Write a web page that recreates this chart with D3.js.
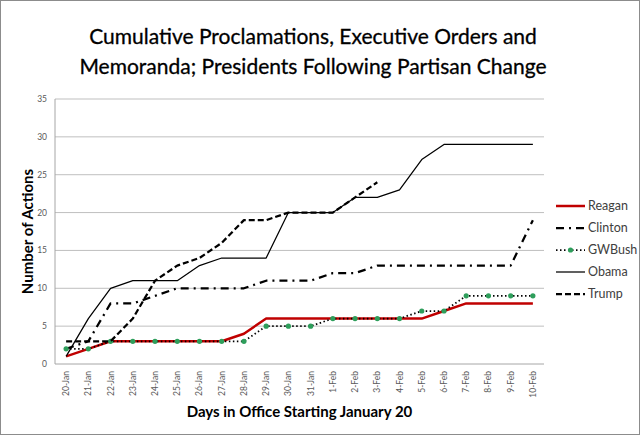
<!DOCTYPE html>
<html>
<head>
<meta charset="utf-8">
<script src="https://cdn.jsdelivr.net/npm/d3@7"></script>
<style>
  body { margin: 0; background: #fff; }
  text { font-family: Lato, "Open Sans", sans-serif; }
</style>
</head>
<body>
<svg width="640" height="435"></svg>
<script>
// days in office, 20-Jan through 10-Feb
let days = ["20-Jan", "21-Jan", "22-Jan", "23-Jan", "24-Jan", "25-Jan", "26-Jan", "27-Jan",
    "28-Jan", "29-Jan", "30-Jan", "31-Jan", "1-Feb", "2-Feb", "3-Feb", "4-Feb", "5-Feb",
    "6-Feb", "7-Feb", "8-Feb", "9-Feb", "10-Feb"];

let reagan = [1, 2, 3, 3, 3, 3, 3, 3, 4, 6, 6, 6, 6, 6, 6, 6, 6, 7, 8, 8, 8, 8];
let clinton = [2, 3, 8, 8, 9, 10, 10, 10, 10, 11, 11, 11, 12, 12, 13, 13, 13, 13, 13, 13, 13, 19];
let gwbush = [2, 2, 3, 3, 3, 3, 3, 3, 3, 5, 5, 5, 6, 6, 6, 6, 7, 7, 9, 9, 9, 9];
let obama = [1, 6, 10, 11, 11, 11, 13, 14, 14, 14, 20, 20, 20, 22, 22, 23, 27, 29, 29, 29, 29, 29];
let trump = [3, 3, 3, 6, 11, 13, 14, 16, 19, 19, 20, 20, 20, 22, 24];

let yTicks = [0, 5, 10, 15, 20, 25, 30, 35];

let series = [
    { name: "Reagan", values: reagan, color: "#c00000", width: 2.5, dash: null },
    { name: "Clinton", values: clinton, color: "#000", width: 2.25, dash: "8,5,2,5" },
    { name: "GWBush", values: gwbush, color: "#000", width: 1.75, dash: "1.5,2.5", marker: "#2e9e5b" },
    { name: "Obama", values: obama, color: "#000", width: 1.25, dash: null },
    { name: "Trump", values: trump, color: "#000", width: 2.25, dash: "6,3" }
];

let svg = d3.select("svg");
let width = parseInt(svg.attr("width"));
let height = parseInt(svg.attr("height"));

// chart area border
svg.append("rect")
    .attr("x", 0.5).attr("y", 0.5)
    .attr("width", width - 1).attr("height", height - 1)
    .attr("fill", "#fff")
    .attr("stroke", "#8c8c8c");

let plot = { left: 55, right: 544, top: 99, bottom: 364 };

let x = d3.scalePoint()
    .domain(days)
    .range([plot.left, plot.right])
    .padding(0.5);

let y = d3.scaleLinear()
    .domain([0, 35])
    .range([plot.bottom, plot.top]);

// gridlines
svg.append("g")
    .selectAll("line")
    .data(yTicks.slice(1))
    .enter()
    .append("line")
    .attr("x1", plot.left).attr("x2", plot.right)
    .attr("y1", d => y(d)).attr("y2", d => y(d))
    .attr("stroke", "#bfbfbf")
    .attr("stroke-width", 1);

// axes lines
svg.append("line")
    .attr("x1", plot.left).attr("x2", plot.left)
    .attr("y1", plot.top).attr("y2", plot.bottom)
    .attr("stroke", "#a6a6a6");
svg.append("line")
    .attr("x1", plot.left).attr("x2", plot.right)
    .attr("y1", plot.bottom).attr("y2", plot.bottom)
    .attr("stroke", "#a6a6a6");

// y tick labels
svg.append("g")
    .selectAll("text")
    .data(yTicks)
    .enter()
    .append("text")
    .attr("x", plot.left - 8)
    .attr("y", d => y(d))
    .attr("dy", "0.35em")
    .attr("text-anchor", "end")
    .attr("font-size", 8.5)
    .attr("fill", "#595959")
    .text(d => d);

// x tick labels (rotated)
svg.append("g")
    .selectAll("text")
    .data(days)
    .enter()
    .append("text")
    .attr("transform", d => "translate(" + x(d) + "," + (plot.bottom + 7) + ") rotate(-90)")
    .attr("dy", "0.35em")
    .attr("text-anchor", "end")
    .attr("font-size", 8.5)
    .attr("fill", "#595959")
    .text(d => d);

// lines
let line = d3.line()
    .x((d, i) => x(days[i]))
    .y(d => y(d));

let lines = svg.append("g");
series.forEach(s => {
    lines.append("path")
        .datum(s.values)
        .attr("d", line)
        .attr("fill", "none")
        .attr("stroke", s.color)
        .attr("stroke-width", s.width)
        .attr("stroke-dasharray", s.dash)
        .attr("stroke-linejoin", "round");
    if (s.marker) {
        lines.selectAll(".m-" + s.name)
            .data(s.values)
            .enter()
            .append("circle")
            .attr("cx", (d, i) => x(days[i]))
            .attr("cy", d => y(d))
            .attr("r", 2.6)
            .attr("fill", s.marker);
    }
});

// legend
let legend = svg.append("g")
    .selectAll("g")
    .data(series)
    .enter()
    .append("g")
    .attr("transform", (d, i) => "translate(556," + (206 + i * 22) + ")");

legend.append("line")
    .attr("x1", 0).attr("x2", 29)
    .attr("stroke", d => d.color)
    .attr("stroke-width", d => d.width)
    .attr("stroke-dasharray", d => d.dash);

legend.filter(d => d.marker)
    .append("circle")
    .attr("cx", 14.5)
    .attr("r", 2.6)
    .attr("fill", d => d.marker);

legend.append("text")
    .attr("x", 32)
    .attr("dy", "0.35em")
    .attr("font-size", 12.5)
    .attr("fill", "#404040")
    .text(d => d.name);

// titles
let title = svg.append("text")
    .attr("x", 313)
    .attr("text-anchor", "middle")
    .attr("font-size", 21)
    .attr("fill", "#000")
    .attr("stroke", "#000")
    .attr("stroke-width", 0.3);
title.append("tspan").attr("x", 313).attr("y", 44)
    .text("Cumulative Proclamations, Executive Orders and");
title.append("tspan").attr("x", 313).attr("y", 74)
    .text("Memoranda; Presidents Following Partisan Change");

svg.append("text")
    .attr("x", (plot.left + plot.right) / 2)
    .attr("y", 417)
    .attr("text-anchor", "middle")
    .attr("font-size", 15)
    .attr("font-weight", "bold")
    .text("Days in Office Starting January 20");

svg.append("text")
    .attr("transform", "translate(33," + ((plot.top + plot.bottom) / 2) + ") rotate(-90)")
    .attr("text-anchor", "middle")
    .attr("font-size", 15)
    .attr("font-weight", "bold")
    .text("Number of Actions");
</script>
</body>
</html>
